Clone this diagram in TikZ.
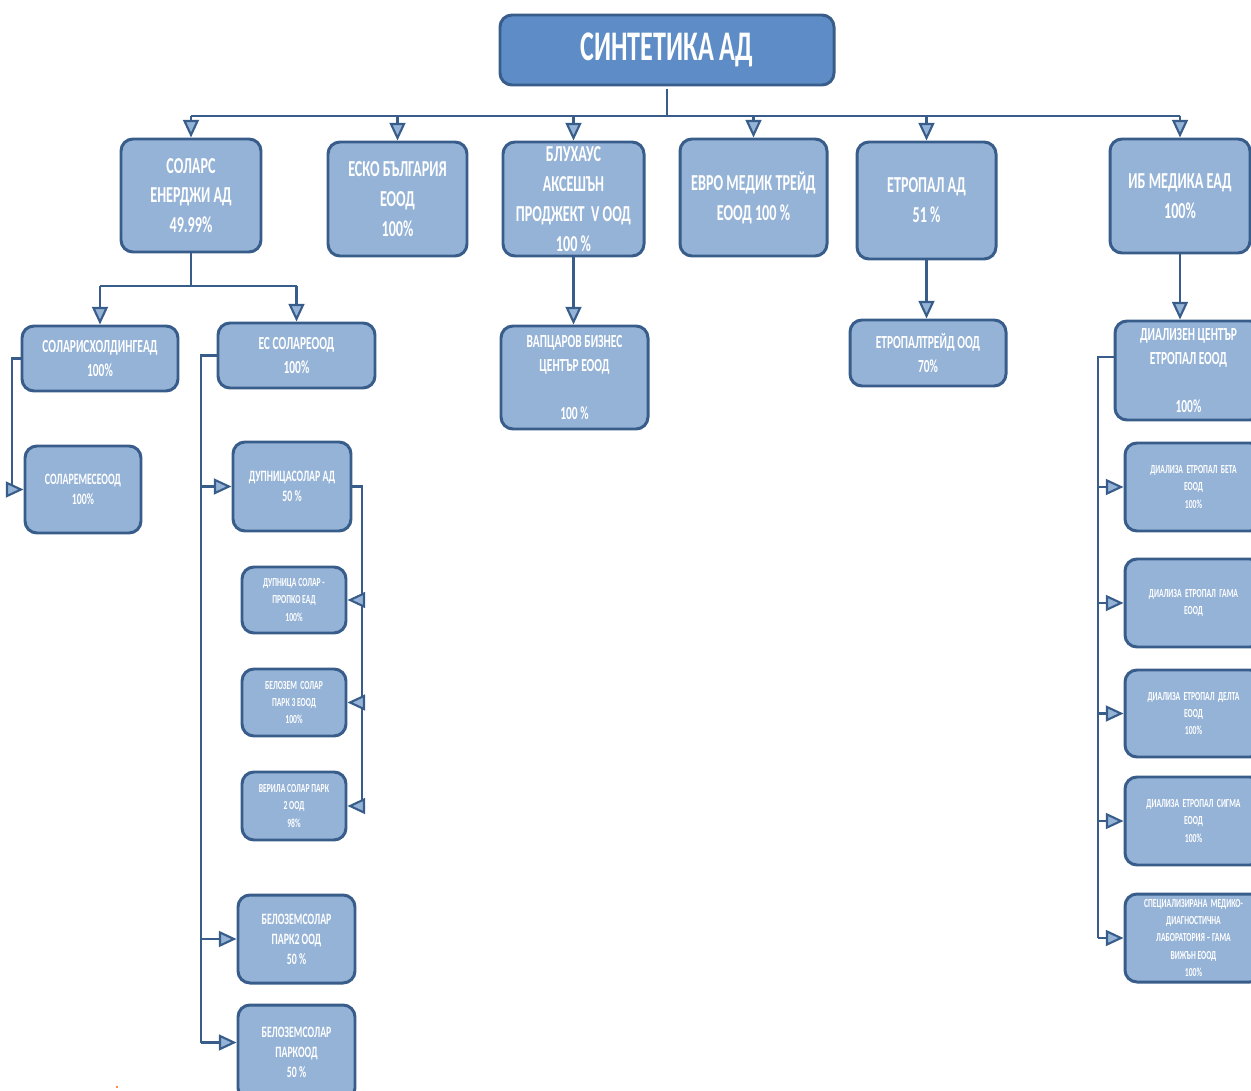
\documentclass[tikz,border=0pt]{standalone}
\usepackage{fontspec}
\newfontfamily\orgfont[FakeStretch=0.62]{Carlito}
\usetikzlibrary{arrows.meta}
\definecolor{boxfill}{HTML}{95B3D7}
\definecolor{topfill}{HTML}{5E8CC6}
\definecolor{boxline}{HTML}{385D8A}
\tikzset{
  orgbox/.style={draw=boxline, line width=1.7pt, fill=boxfill, rounded corners=0.24cm,
    text=white, align=center, inner sep=0pt},
  boxsize/.style 2 args={minimum width=#1*0.02cm, minimum height=#2*0.02cm},
  titletext/.style={font=\orgfont\bfseries\fontsize{24}{28}\selectfont},
  bigtext/.style={font=\orgfont\bfseries\fontsize{13}{17}\selectfont},
  midtext/.style={font=\orgfont\bfseries\fontsize{10.5}{13.5}\selectfont},
  smalltext/.style={font=\orgfont\bfseries\fontsize{9}{11.4}\selectfont},
  tinytext/.style={font=\orgfont\bfseries\fontsize{7}{9.7}\selectfont},
  link/.style={draw=boxline, line width=1.4pt},
  arr/.style={link, -{Triangle[length=10pt,width=9pt,line width=1.2pt,fill=boxfill]}},
}
\begin{document}
\begin{tikzpicture}[x=0.02cm, y=-0.02cm]
\useasboundingbox (0,0) rectangle (1251,1091);

% head company
\node[orgbox, fill=topfill, titletext, boxsize={334}{70}] (top) at (667,50) {СИНТЕТИКА АД};

% first level
\node[orgbox, bigtext, boxsize={140}{113}] (sol) at (191,195.5) {СОЛАРС\\ЕНЕРДЖИ АД\\49.99\%};
\node[orgbox, bigtext, boxsize={139}{114}] (esko) at (397.5,199) {ЕСКО БЪЛГАРИЯ\\ЕООД\\100\%};
\node[orgbox, bigtext, boxsize={141}{114}] (blu) at (573.5,199) {БЛУХАУС\\АКСЕШЪН\\ПРОДЖЕКТ\ \ V ООД\\100 \%};
\node[orgbox, bigtext, boxsize={147}{117}] (evro) at (753.5,197.5) {ЕВРО МЕДИК ТРЕЙД\\ЕООД 100 \%};
\node[orgbox, bigtext, boxsize={139}{117}] (etr) at (926.5,200.5) {ЕТРОПАЛ АД\\51 \%};
\node[orgbox, bigtext, boxsize={140}{114}] (ib) at (1180,196) {ИБ МЕДИКА ЕАД\\100\%};

% bus under the head
\coordinate (bus) at (0,116);
\draw[link] ([yshift=-0.06cm]top.south) -- (top.south |- bus);
\draw[link] (sol.north |- bus) -- (ib.north |- bus);
\foreach \n in {sol,esko,blu,evro,etr,ib}
  \draw[arr] (\n.north |- bus) -- (\n.north);

% solars branch
\node[orgbox, midtext, boxsize={156}{65}] (sh) at (100,358.5) {СОЛАРИСХОЛДИНГЕАД\\100\%};
\node[orgbox, midtext, boxsize={157}{65}] (es) at (296.5,355.5) {ЕС СОЛАРЕООД\\100\%};
\node[orgbox, smalltext, boxsize={116}{87}] (sem) at (83,489.5) {СОЛАРЕМЕСЕООД\\100\%};
\coordinate (solbus) at (0,286);
\draw[link] (sol.south) -- (sol.south |- solbus);
\draw[link] (sh.north |- solbus) -- (es.north |- solbus);
\foreach \n in {sh,es}
  \draw[arr] (\n.north |- solbus) -- (\n.north);
\coordinate (shk) at (12,0);
\draw[arr] (sh.west) -| (shk |- sem.west) -- (sem.west);

% es solar branch
\node[orgbox, smalltext, boxsize={118}{89}] (ds) at (292,486.5) {ДУПНИЦАСОЛАР АД\\50 \%};
\node[orgbox, tinytext, boxsize={104}{66}] (dsp) at (294,600) {ДУПНИЦА СОЛАР -\\ПРОПКО ЕАД\\100\%};
\node[orgbox, tinytext, boxsize={104}{67}] (bs3) at (294,702.5) {БЕЛОЗЕМ\ \ СОЛАР\\ПАРК 3 ЕООД\\100\%};
\node[orgbox, tinytext, boxsize={104}{68}] (vsp) at (294,806) {ВЕРИЛА СОЛАР ПАРК\\2 ООД\\98\%};
\node[orgbox, smalltext, boxsize={117}{88}] (bp2) at (296.5,939) {БЕЛОЗЕМСОЛАР\\ПАРК2 ООД\\50 \%};
\node[orgbox, smalltext, boxsize={117}{95}] (bpk) at (296.5,1052.5) {БЕЛОЗЕМСОЛАР\\ПАРКООД\\50 \%};
\coordinate (esk) at (201,0);
\draw[link] (es.west) -| ([yshift=0.2cm]esk |- bpk.west);
\foreach \n in {ds,bp2}
  \draw[arr] (esk |- \n.west) -- (\n.west);
\draw[arr] ([yshift=0.2cm]esk |- bpk.west) -- ([yshift=0.2cm]bpk.west);
\coordinate (dsk) at (362,0);
\draw[link] (ds.east) -| (dsk |- vsp.east);
\foreach \n in {dsp,bs3,vsp}
  \draw[arr] (dsk |- \n.east) -- (\n.east);

% bluhaus and etropal
\node[orgbox, midtext, boxsize={147}{103}] (vap) at (574.5,377.5) {ВАПЦАРОВ БИЗНЕС\\ЦЕНТЪР ЕООД\\~\\100 \%};
\node[orgbox, midtext, boxsize={156}{66}] (ett) at (928,353) {ЕТРОПАЛТРЕЙД ООД\\70\%};
\draw[arr] (blu.south) -- (blu.south |- vap.north);
\draw[arr] (etr.south) -- (etr.south |- ett.north);

% ib medika branch
\node[orgbox, midtext, boxsize={147}{99}] (dc) at (1188.5,370.5) {ДИАЛИЗЕН ЦЕНТЪР\\ЕТРОПАЛ ЕООД\\~\\100\%};
\node[orgbox, tinytext, boxsize={137}{88}] (db) at (1193.5,487) {ДИАЛИЗА\ \ ЕТРОПАЛ\ \ БЕТА\\ЕООД\\100\%};
\node[orgbox, tinytext, boxsize={137}{88}] (dg) at (1193.5,603) {ДИАЛИЗА\ \ ЕТРОПАЛ\ \ ГАМА\\ЕООД};
\node[orgbox, tinytext, boxsize={137}{87}] (dd) at (1193.5,713.5) {ДИАЛИЗА\ \ ЕТРОПАЛ\ \ ДЕЛТА\\ЕООД\\100\%};
\node[orgbox, tinytext, boxsize={137}{88}] (dsg) at (1193.5,821) {ДИАЛИЗА\ \ ЕТРОПАЛ\ \ СИГМА\\ЕООД\\100\%};
\node[orgbox, tinytext, boxsize={137}{88}] (spc) at (1193.5,938) {СПЕЦИАЛИЗИРАНА\ \ МЕДИКО-\\ДИАГНОСТИЧНА\\ЛАБОРАТОРИЯ – ГАМА\\ВИЖЪН ЕООД\\100\%};
\draw[arr] (ib.south) -- (ib.south |- dc.north);
\coordinate (dck) at (1098,0);
\draw[link] ([yshift=0.27cm]dc.west) -| (dck |- spc.west);
\foreach \n in {db,dg,dd,dsg,spc}
  \draw[arr] (dck |- \n.west) -- (\n.west);

% stray dot
\fill[orange!80!red] (117,1087) circle (1.2);
\end{tikzpicture}
\end{document}
